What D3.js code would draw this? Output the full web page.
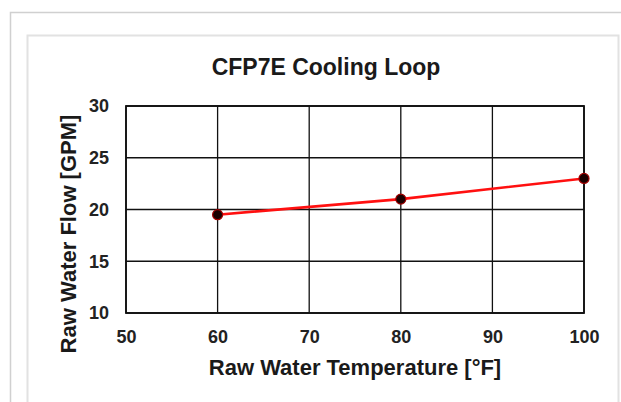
<!DOCTYPE html>
<html>
<head>
<meta charset="utf-8">
<script src="https://cdn.jsdelivr.net/npm/d3@7"></script>
<style>
  body { margin: 0; background: #fff; }
  svg { display: block; font-family: 'Liberation Sans', Arial, sans-serif; }
</style>
</head>
<body>
<svg id="chart" width="621" height="402"></svg>
<script>
const temps = [60, 80, 100];
const flows = [19.5, 21, 23];
const xTicks = [50, 60, 70, 80, 90, 100];
const yTicks = [10, 15, 20, 25, 30];

const svg = d3.select('#chart');
const margin = { top: 106, right: 37, bottom: 89, left: 126 };
const width = +svg.attr('width') - margin.left - margin.right;
const height = +svg.attr('height') - margin.top - margin.bottom;

// page frames
svg.append('path')
  .attr('d', 'M10.5,402 V12.5 H621')
  .attr('fill', 'none')
  .attr('stroke', '#d0d0d0')
  .attr('stroke-width', 1.5);
svg.append('path')
  .attr('d', 'M27.5,402 V35.5 H618.5 V402')
  .attr('fill', 'none')
  .attr('stroke', '#e2e2e2')
  .attr('stroke-width', 2);

const g = svg.append('g').attr('transform', `translate(${margin.left},${margin.top})`);

const x = d3.scaleLinear().domain([50, 100]).range([0, width]);
const y = d3.scaleLinear().domain([10, 30]).range([height, 0]);

// grid
g.append('g')
  .selectAll('line')
  .data(xTicks)
  .enter()
  .append('line')
  .attr('x1', d => x(d))
  .attr('x2', d => x(d))
  .attr('y1', 0)
  .attr('y2', height)
  .attr('stroke', '#111')
  .attr('stroke-width', 1.3);

g.append('g')
  .selectAll('line')
  .data(yTicks)
  .enter()
  .append('line')
  .attr('x1', 0)
  .attr('x2', width)
  .attr('y1', d => y(d))
  .attr('y2', d => y(d))
  .attr('stroke', '#111')
  .attr('stroke-width', 1.3);

g.append('rect')
  .attr('width', width)
  .attr('height', height)
  .attr('fill', 'none')
  .attr('stroke', '#111')
  .attr('stroke-width', 1.8);

// axes (labels only)
const xAxis = g.append('g')
  .attr('transform', `translate(0,${height})`)
  .call(d3.axisBottom(x).tickValues(xTicks).tickSize(0).tickPadding(17));
const yAxis = g.append('g')
  .call(d3.axisLeft(y).tickValues(yTicks).tickSize(0).tickPadding(17));
[xAxis, yAxis].forEach((a) => {
  a.select('.domain').remove();
  a.selectAll('text')
    .attr('font-family', "'Liberation Sans', Arial, sans-serif")
    .attr('font-size', 18)
    .attr('font-weight', 'bold')
    .attr('fill', '#222');
});

// series
const pts = temps.map((t, i) => ({ t, f: flows[i] }));
g.append('path')
  .datum(pts)
  .attr('fill', 'none')
  .attr('stroke', '#ff1010')
  .attr('stroke-width', 2.6)
  .attr('d', d3.line().x(d => x(d.t)).y(d => y(d.f)));

g.selectAll('.dot')
  .data(pts)
  .enter()
  .append('circle')
  .attr('class', 'dot')
  .attr('cx', d => x(d.t))
  .attr('cy', d => y(d.f))
  .attr('r', 5)
  .attr('fill', '#1a0000')
  .attr('stroke', '#a00000')
  .attr('stroke-width', 1.2);

// titles
svg.append('text')
  .attr('x', 326)
  .attr('y', 75)
  .attr('text-anchor', 'middle')
  .attr('font-size', 23)
  .attr('font-weight', 'bold')
  .attr('fill', '#1a1a1a')
  .text('CFP7E Cooling Loop');

svg.append('text')
  .attr('x', 355)
  .attr('y', 375)
  .attr('text-anchor', 'middle')
  .attr('font-size', 22)
  .attr('font-weight', 'bold')
  .attr('fill', '#1a1a1a')
  .text('Raw Water Temperature [°F]');

svg.append('text')
  .attr('transform', 'translate(76,234) rotate(-90)')
  .attr('text-anchor', 'middle')
  .attr('font-size', 22)
  .attr('font-weight', 'bold')
  .attr('fill', '#1a1a1a')
  .text('Raw Water Flow [GPM]');
</script>
</body>
</html>
